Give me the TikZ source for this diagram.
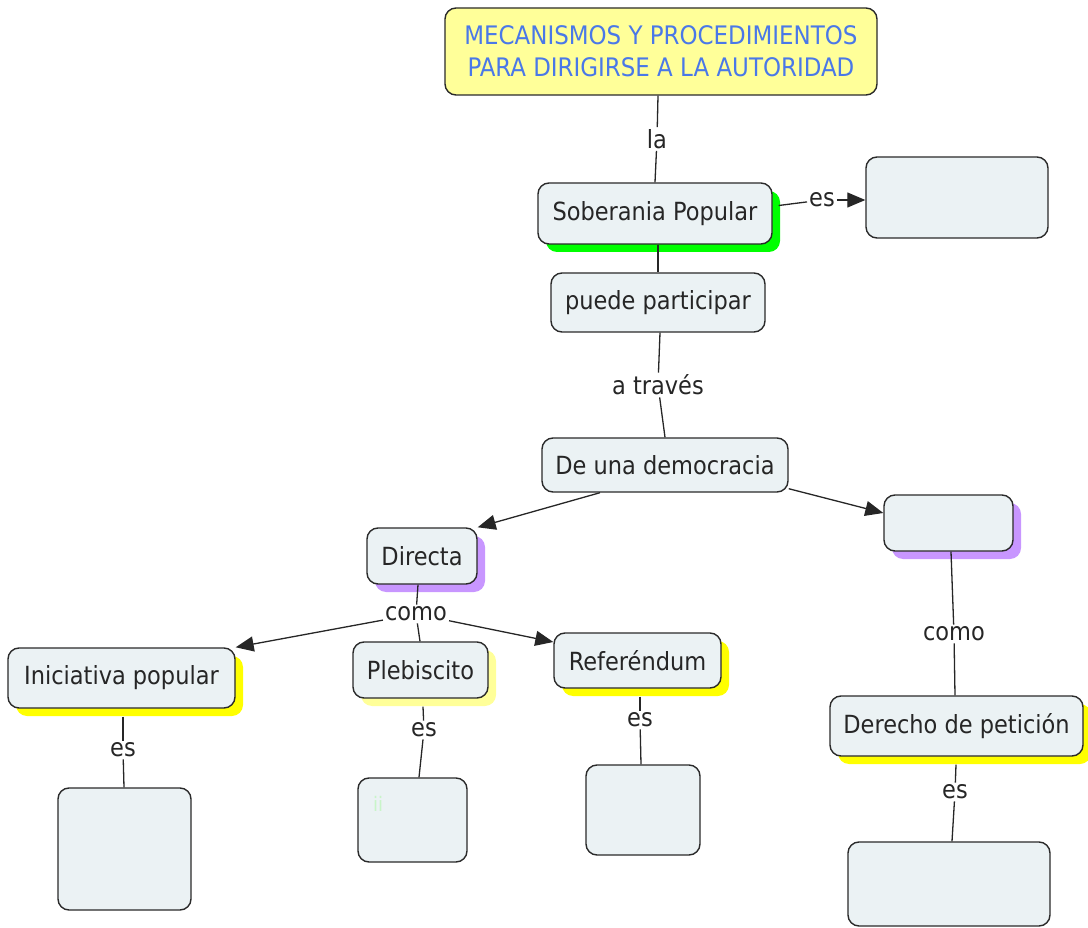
\documentclass[tikz,border=0pt]{standalone}
\usepackage{fontspec}
\setmainfont{DejaVu Sans Condensed}
\usetikzlibrary{arrows.meta,shadows}
\definecolor{boxfill}{HTML}{EBF2F4}
\definecolor{boxdraw}{HTML}{2A2A2A}
\definecolor{titlefill}{HTML}{FFFF99}
\definecolor{titletext}{HTML}{4A78E8}
\definecolor{shgreen}{HTML}{00FF00}
\definecolor{shpurple}{HTML}{C896FF}
\definecolor{shyellow}{HTML}{FFFF00}
\definecolor{shlightyellow}{HTML}{FFFF99}
\definecolor{faintgreen}{HTML}{C8F5C8}
\tikzset{
  concept/.style={draw=boxdraw, line width=1.4pt, fill=boxfill, rounded corners=11pt,
    inner sep=0pt, text=black!85, font=\fontsize{25}{28}\selectfont},
  sh/.style={drop shadow={shadow xshift=8pt, shadow yshift=-8pt, fill=#1, opacity=1}},
  lbl/.style={inner sep=2pt, text=black!85, font=\fontsize{25}{28}\selectfont},
  conn/.style={draw=black!85, line width=1.3pt},
  arr/.style={conn, -{Triangle[length=18pt,width=15pt]}}
}
\begin{document}
\begin{tikzpicture}[x=1pt,y=-1pt]
\useasboundingbox (0,0) rectangle (1088,928);
% concepts
\node[concept, fill=titlefill, text=titletext, minimum width=432pt, minimum height=87pt, align=center,
  font=\fontsize{25.5}{32}\selectfont] (title) at (661,51.5) {MECANISMOS Y PROCEDIMIENTOS\\PARA DIRIGIRSE A LA AUTORIDAD};
\node[concept, sh=shgreen, minimum width=234pt, minimum height=61pt] (sob) at (655,213.5) {Soberania Popular};
\node[concept, minimum width=182pt, minimum height=81pt] (esbox) at (957,197.5) {};
\node[concept, minimum width=214pt, minimum height=59pt] (puede) at (658,302.5) {puede participar};
\node[concept, minimum width=246pt, minimum height=54pt] (demo) at (665,465) {De una democracia};
\node[concept, sh=shpurple, minimum width=129pt, minimum height=56pt] (box2) at (948.5,523) {};
\node[concept, sh=shpurple, minimum width=110pt, minimum height=56pt] (directa) at (422,556) {Directa};
\node[concept, sh=shyellow, minimum width=227pt, minimum height=60pt] (inic) at (121.5,678) {Iniciativa popular};
\node[concept, sh=shlightyellow, minimum width=135pt, minimum height=56pt] (pleb) at (420.5,670) {Plebiscito};
\node[concept, sh=shyellow, minimum width=167pt, minimum height=55pt] (refe) at (637.5,660.5) {Referéndum};
\node[concept, sh=shyellow, minimum width=253pt, minimum height=60pt] (derecho) at (956.5,726) {Derecho de petición};
\node[concept, minimum width=133pt, minimum height=122pt] (b1) at (124.5,849) {};
\node[concept, minimum width=109pt, minimum height=84pt] (b2) at (412.5,820) {};
\node[concept, minimum width=114pt, minimum height=90pt] (b3) at (643,810) {};
\node[concept, minimum width=202pt, minimum height=84pt] (b4) at (949,884) {};
\node[text=faintgreen, inner sep=0pt, font=\fontsize{20}{22}\selectfont] (ii) at (378,804) {ii};
% link labels
\node[lbl] (la) at (657,139) {la};
\node[lbl] (es1) at (822,200) {es};
\node[lbl] (atraves) at (658,385) {a través};
\node[lbl] (como1) at (416,614) {como};
\node[lbl] (como2) at (954,634) {como};
\node[lbl] (es2) at (123,750) {es};
\node[lbl] (es3) at (424,730) {es};
\node[lbl] (es4) at (640,720) {es};
\node[lbl] (es5) at (955,792) {es};
% connectors
\draw[conn] (title.south -| 658,0) -- (la);
\draw[conn] (la) -- (sob.north -| 655,0);
\draw[conn] (sob.east) ++(6,-8) coordinate (sobe) (sobe) -- (es1);
\draw[arr] (es1) -- (esbox.west |- es1);
\draw[conn] (sob.south -| 658,0) -- (puede.north -| 658,0);
\draw[conn] (puede.south -| 660,0) -- (atraves);
\draw[conn] (atraves) -- (demo.north -| 665,0);
\draw[arr] (demo.south -| 600,0) -- (directa.north east);
\draw[arr] (demo.south east) ++(0,-4) coordinate (demoe) (demoe) -- (box2.west |- 0,513);
\draw[conn] (directa.south -| 418,0) -- (como1);
\draw[arr] (como1) -- (inic.north east);
\draw[conn] (como1) -- (pleb.north -| 420,0);
\draw[arr] (como1) -- (refe.west |- 0,642);
\draw[conn] (box2.south -| 951,0) -- (como2);
\draw[conn] (como2) -- (derecho.north -| 955,0);
\draw[conn] (inic.south -| 123,0) ++(0,8) coordinate (inics) (inics) -- (es2);
\draw[conn] (es2) -- (b1.north -| 124,0);
\draw[conn] (pleb.south -| 423,0) ++(0,8) coordinate (plebs) (plebs) -- (es3);
\draw[conn] (es3) -- (b2.north -| 419,0);
\draw[conn] (refe.south -| 640,0) ++(0,8) coordinate (refes) (refes) -- (es4);
\draw[conn] (es4) -- (b3.north -| 641,0);
\draw[conn] (derecho.south -| 956,0) ++(0,8) coordinate (ders) (ders) -- (es5);
\draw[conn] (es5) -- (b4.north -| 952,0);
\end{tikzpicture}
\end{document}
